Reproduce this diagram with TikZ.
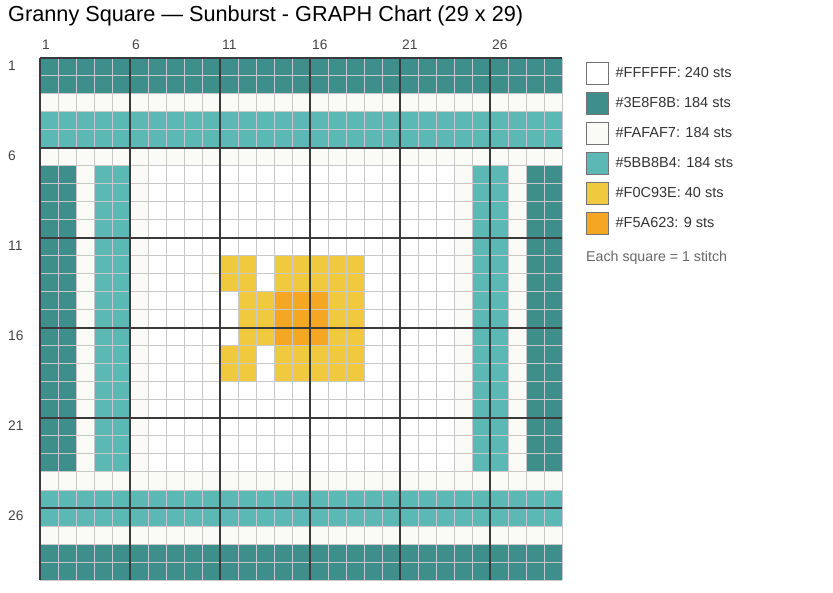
\documentclass[tikz,border=0pt]{standalone}
\usepackage{fontspec}
\setmainfont{Liberation Sans}
\usetikzlibrary{positioning}
\definecolor{tealdark}{HTML}{3E8F8B}
\definecolor{offwhite}{HTML}{FAFAF7}
\definecolor{teallight}{HTML}{5BB8B4}
\definecolor{sunyellow}{HTML}{F0C93E}
\definecolor{sunorange}{HTML}{F5A623}
\definecolor{gridgrey}{HTML}{C8C8C8}
\definecolor{gridbold}{HTML}{3A3A3A}
\definecolor{labelgrey}{HTML}{444444}

\begin{document}
\begin{tikzpicture}[x=1pt, y=-1pt,
  lbl/.style={text=labelgrey, font=\fontsize{13.8}{16}\selectfont, inner sep=0pt},
  swatch/.style={draw=black!55, line width=0.8pt, minimum size=22pt, inner sep=0pt},
  keytext/.style={text=black!80, font=\fontsize{14.5}{17}\selectfont, inner sep=0pt}]
  \useasboundingbox (0,0) rectangle (833,593);
  \node (title) at (8,16) [anchor=west, inner sep=0pt, font=\fontsize{21.7}{25}\selectfont] {Granny Square — Sunburst - GRAPH Chart (29 x 29)};
  \begin{scope}[shift={(40,58)}, x=18pt, y=-18pt]
    \fill[white] (0,0) rectangle (29,29);
    \fill[tealdark] (0,0) rectangle (29,2) (0,27) rectangle (29,29)
      (0,6) rectangle (2,23) (27,6) rectangle (29,23);
    \fill[offwhite] (0,2) rectangle (29,3) (0,5) rectangle (29,6)
      (0,23) rectangle (29,24) (0,26) rectangle (29,27)
      (2,6) rectangle (3,23) (5,6) rectangle (6,23)
      (23,6) rectangle (24,23) (26,6) rectangle (27,23);
    \fill[teallight] (0,3) rectangle (29,5) (0,24) rectangle (29,26)
      (3,6) rectangle (5,23) (24,6) rectangle (26,23);
    \fill[sunyellow] (10,11) rectangle (18,18);
    \fill[white] (12,11) rectangle (13,13) (12,16) rectangle (13,18) (10,13) rectangle (11,16);
    \fill[sunorange] (13,13) rectangle (16,16);
    \foreach \k in {0,...,29} {
      \draw[gridgrey, line width=1pt] (\k,0) -- (\k,29);
      \draw[gridgrey, line width=1pt] (0,\k) -- (29,\k);
    }
    \foreach \k in {0,5,...,25} {
      \draw[gridbold, line width=2pt] (\k,0) -- (\k,29);
      \draw[gridbold, line width=2pt] (0,\k) -- (29,\k);
    }
  \end{scope}
  \foreach \c in {1,6,...,26} {
    \node[lbl, anchor=west] (col\c) at ({40+18*(\c-1)+2},45) {\c};
    \node[lbl, anchor=west] (row\c) at (8,{58+18*(\c-1)+8}) {\c};
  }
  \foreach \hex/\n [count=\i] in {FFFFFF/240, 3E8F8B/184, FAFAF7/184, 5BB8B4/184, F0C93E/40, F5A623/9} {
    \definecolor{key\i}{HTML}{\hex}
    \node[swatch, fill=key\i] (sw\i) at (597,{73+30*(\i-1)}) {};
    \node[keytext, right=7pt of sw\i] (txt\i) {\#\hex: \n\ sts};
  }
  \node[lbl, anchor=west, text=black!60, font=\fontsize{14.2}{17}\selectfont] (note) at (586,258) {Each square = 1 stitch};
\end{tikzpicture}
\end{document}
